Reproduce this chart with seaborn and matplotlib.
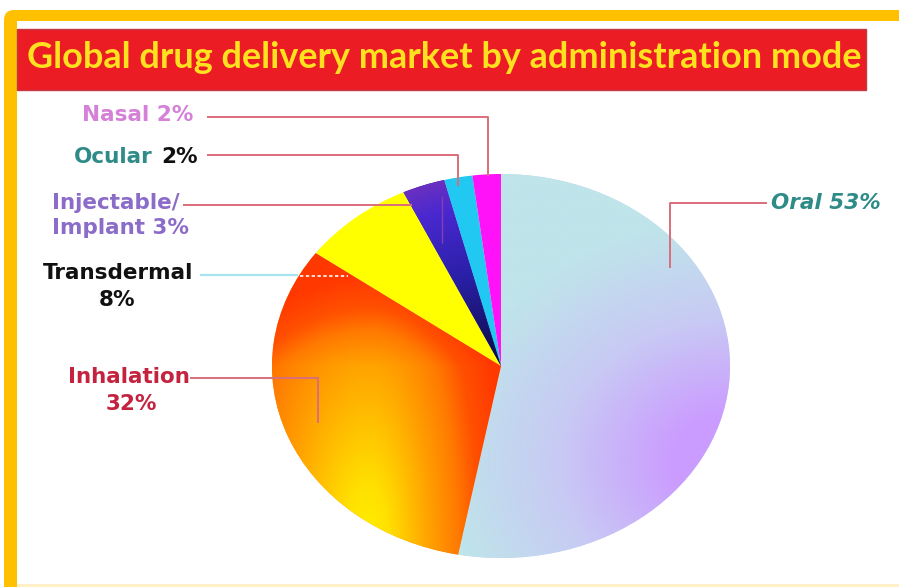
import numpy as np
import matplotlib
matplotlib.use("Agg")
import matplotlib.pyplot as plt
import matplotlib.colors as mcolors
from matplotlib.patches import FancyBboxPatch, Rectangle
import seaborn as sns

# ---------------- data ----------------
title = "Global drug delivery market by administration mode"
categories = ["Oral", "Inhalation", "Transdermal", "Injectable/Implant", "Ocular", "Nasal"]
shares = [53, 32, 8, 3, 2, 2]
share_labels = ["53%", "32%", "8%", "3%", "2%", "2%"]

# ---------------- style ----------------
sns.set_theme(style="white")
plt.rcParams["font.family"] = ["DejaVu Sans"]

W, H = 899, 587
fig = plt.figure(figsize=(W / 100, H / 100), dpi=100)
fig.patch.set_facecolor("white")

# background / frame axes in pixel coordinates
bg = fig.add_axes([0, 0, 1, 1])
bg.set_xlim(0, W)
bg.set_ylim(H, 0)
bg.axis("off")

bg.add_patch(FancyBboxPatch((4, 10), W + 40, H + 40,
                            boxstyle="round,pad=0,rounding_size=10",
                            fc="#FFC000", ec="none", zorder=1))
bg.add_patch(Rectangle((17, 21), W + 40, 563, fc="white", ec="none", zorder=2))
bg.add_patch(Rectangle((17, 584), W, 4, fc="#FFF0C8", ec="none", zorder=2))
# title banner
bg.add_patch(Rectangle((17, 29), 849, 61, fc="#EC1C24", ec="#C23A45", lw=1.0, zorder=3))
tt = bg.text(27, 58, title, color="#FFE21F", fontsize=21.5, fontweight="bold",
             family=["Lato", "DejaVu Sans"], ha="left", va="center", zorder=4)
# fit title width to the banner
fig.canvas.draw()
r = fig.canvas.get_renderer()
wpx = tt.get_window_extent(r).width
tt.set_fontsize(21.5 * 833.0 / wpx)

# ---------------- pie ----------------
cx, cy, rx, ry = 501, 366, 229, 192
pax = fig.add_axes([(cx - rx) / W, 1 - (cy + ry) / H, 2 * rx / W, 2 * ry / H])
base_colors = ["#C4D6F0", "#FF8C00", "#FFFF00", "#2A20A8", "#20C8F2", "#FF12F8"]
wedges, _ = pax.pie(shares, startangle=90, counterclock=False, radius=1,
                    colors=base_colors, wedgeprops=dict(linewidth=0))
pax.set_aspect("auto")
pax.set_xlim(-1, 1)
pax.set_ylim(-1, 1)
pax.axis("off")

n = 400
gx, gy = np.meshgrid(np.linspace(-1, 1, n), np.linspace(-1, 1, n))


def ramp(stops, t):
    pos = [p for p, _ in stops]
    cols = np.array([mcolors.to_rgb(c) for _, c in stops])
    return np.stack([np.interp(t, pos, cols[:, k]) for k in range(3)], axis=-1)


d_oral = np.sqrt((gx - 1.0) ** 2 + (gy + 0.5) ** 2)
img_oral = ramp([(0, "#BFE4EA"), (0.5, "#C8CAF4"), (1, "#CB9CFF")],
                np.clip(1.25 - d_oral, 0, 1))
sx = np.where(gx < -0.58, 0.8, 0.6)
t_inh = np.sqrt(((gx + 0.58) / sx) ** 2 + ((gy + 0.95) / 2.2) ** 2) + 0.75 * np.clip(gy, 0, None)
img_inh = ramp([(0, "#FFF200"), (0.15, "#FFE000"), (0.3, "#FFC000"), (0.45, "#FFA000"),
                (0.65, "#FF7A00"), (0.8, "#FF5000"), (1, "#FF3800")], np.clip(t_inh, 0, 1))
rr = np.sqrt(gx ** 2 + gy ** 2)
img_inj = ramp([(0, "#0A0A40"), (0.5, "#2A20A8"), (0.85, "#4A28D0"), (1, "#6A30C0")],
               np.clip(rr, 0, 1))
gradients = {0: img_oral, 1: img_inh, 3: img_inj}
for i, img in gradients.items():
    im = pax.imshow(img, extent=(-1, 1, -1, 1), origin="lower", aspect="auto",
                    interpolation="bilinear", zorder=wedges[i].get_zorder() + 0.1)
    im.set_clip_path(wedges[i])
pax.set_xlim(-1, 1)
pax.set_ylim(-1, 1)

# ---------------- labels & leader lines ----------------
top = fig.add_axes([0, 0, 1, 1])
top.set_xlim(0, W)
top.set_ylim(H, 0)
top.axis("off")

lead = "#DA6E7A"
leaders = [
    ([207, 488, 488], [117, 117, 176], lead, 1.4),            # Nasal
    ([207, 458, 458], [155, 155, 186], lead, 1.4),            # Ocular
    ([183, 412], [205, 205], lead, 1.4),                      # Injectable
    ([442, 442], [196, 243], "#8A3CB0", 1.0),                 # Injectable inner tick
    ([200, 298], [275, 275], "#A8E4F0", 1.6),                 # Transdermal
    ([190, 318, 318], [378, 378, 423], lead, 1.4),            # Inhalation
    ([767, 670, 670], [203, 203, 268], lead, 1.4),            # Oral
]
for xs, ys, c, lw in leaders:
    top.plot(xs, ys, color=c, lw=lw, solid_capstyle="butt")
top.plot([300, 348], [276, 276], color="white", lw=1.2, ls=(0, (2, 1.5)))

fs = 15.5
kw = dict(fontweight="bold", fontsize=fs, va="center")
top.text(193, 115, f"{categories[5]} {share_labels[5]}", color="#D581D8", ha="right", **kw)
top.text(153, 157, categories[4], color="#2E8B88", ha="right", **kw)
top.text(161, 157, share_labels[4], color="#111111", ha="left", **kw)
top.text(52, 203, "Injectable/", color="#8C6CC9", ha="left", **kw)
top.text(52, 228, f"Implant {share_labels[3]}", color="#8C6CC9", ha="left", **kw)
top.text(193, 273, categories[2], color="#111111", ha="right", **kw)
top.text(117, 300, share_labels[2], color="#111111", ha="center", **kw)
top.text(190, 377, categories[1], color="#C4233F", ha="right", **kw)
top.text(131, 404, share_labels[1], color="#C4233F", ha="center", **kw)
top.text(771, 203, f"{categories[0]} {share_labels[0]}", color="#2E8B88", ha="left",
         fontstyle="italic", fontweight="bold", fontsize=fs, va="center")

fig.savefig("out.png", dpi=100)
